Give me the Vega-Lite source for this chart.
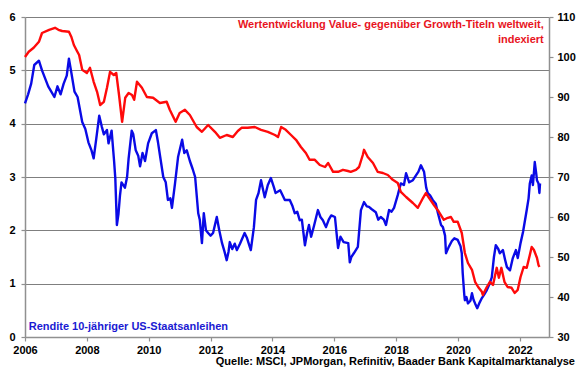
{
  "$schema": "https://vega.github.io/schema/vega-lite/v6.json",
  "width": 524,
  "height": 320,
  "autosize": {"type": "none"},
  "padding": {"left": 25, "top": 17, "right": 31, "bottom": 38},
  "background": "white",
  "config": {
    "view": {"stroke": null},
    "font": "Liberation Sans",
    "axis": {"labelFont": "Liberation Sans", "labelFontWeight": "bold", "labelFontSize": 11, "labelColor": "#000000", "domainColor": "#909090", "domainWidth": 1.5, "tickColor": "#909090", "tickSize": 4, "tickWidth": 1.2}
  },
  "title": {"text": "Quelle: MSCI, JPMorgan, Refinitiv, Baader Bank Kapitalmarktanalyse", "orient": "bottom", "anchor": "end", "frame": "group", "dx": 26, "offset": 1, "fontSize": 11, "font": "Liberation Sans", "fontWeight": "bold", "color": "#000000", "baseline": "top"},
  "datasets": {
    "yield": [
      {"year": 2006.0, "value": 4.38}, {"year": 2006.1, "value": 4.55}, {"year": 2006.2, "value": 4.75}, {"year": 2006.3, "value": 5.1}, {"year": 2006.45, "value": 5.18}, {"year": 2006.55, "value": 5.0}, {"year": 2006.65, "value": 4.85}, {"year": 2006.75, "value": 4.7}, {"year": 2006.85, "value": 4.6}, {"year": 2006.95, "value": 4.5},
      {"year": 2007.05, "value": 4.7}, {"year": 2007.15, "value": 4.55}, {"year": 2007.25, "value": 4.75}, {"year": 2007.35, "value": 4.9}, {"year": 2007.42, "value": 5.22}, {"year": 2007.5, "value": 4.95}, {"year": 2007.6, "value": 4.6}, {"year": 2007.7, "value": 4.5}, {"year": 2007.85, "value": 4.03}, {"year": 2007.95, "value": 3.9},
      {"year": 2008.05, "value": 3.65}, {"year": 2008.15, "value": 3.5}, {"year": 2008.22, "value": 3.35}, {"year": 2008.3, "value": 3.7}, {"year": 2008.4, "value": 4.15}, {"year": 2008.48, "value": 3.95}, {"year": 2008.55, "value": 3.8}, {"year": 2008.65, "value": 3.88}, {"year": 2008.7, "value": 3.63}, {"year": 2008.8, "value": 3.87}, {"year": 2008.88, "value": 3.3}, {"year": 2008.92, "value": 2.97}, {"year": 2008.97, "value": 2.1},
      {"year": 2009.02, "value": 2.3}, {"year": 2009.07, "value": 2.65}, {"year": 2009.12, "value": 2.9}, {"year": 2009.23, "value": 2.8}, {"year": 2009.3, "value": 3.0}, {"year": 2009.35, "value": 3.35}, {"year": 2009.45, "value": 3.87}, {"year": 2009.5, "value": 3.8}, {"year": 2009.58, "value": 3.5}, {"year": 2009.66, "value": 3.4}, {"year": 2009.72, "value": 3.2}, {"year": 2009.8, "value": 3.45}, {"year": 2009.88, "value": 3.3}, {"year": 2009.98, "value": 3.63},
      {"year": 2010.1, "value": 3.82}, {"year": 2010.23, "value": 3.88}, {"year": 2010.3, "value": 3.65}, {"year": 2010.37, "value": 3.38}, {"year": 2010.47, "value": 3.0}, {"year": 2010.55, "value": 2.9}, {"year": 2010.62, "value": 2.57}, {"year": 2010.7, "value": 2.6}, {"year": 2010.75, "value": 2.42}, {"year": 2010.85, "value": 2.88}, {"year": 2010.95, "value": 3.38},
      {"year": 2011.08, "value": 3.7}, {"year": 2011.15, "value": 3.45}, {"year": 2011.23, "value": 3.5}, {"year": 2011.33, "value": 3.3}, {"year": 2011.42, "value": 3.15}, {"year": 2011.5, "value": 3.0}, {"year": 2011.6, "value": 2.32}, {"year": 2011.65, "value": 2.2}, {"year": 2011.72, "value": 1.76}, {"year": 2011.78, "value": 2.32}, {"year": 2011.85, "value": 2.0}, {"year": 2011.92, "value": 1.95},
      {"year": 2012.0, "value": 1.9}, {"year": 2012.08, "value": 1.95}, {"year": 2012.2, "value": 2.25}, {"year": 2012.28, "value": 2.0}, {"year": 2012.37, "value": 1.76}, {"year": 2012.45, "value": 1.6}, {"year": 2012.52, "value": 1.44}, {"year": 2012.58, "value": 1.6}, {"year": 2012.62, "value": 1.78}, {"year": 2012.7, "value": 1.65}, {"year": 2012.78, "value": 1.75}, {"year": 2012.85, "value": 1.63}, {"year": 2012.95, "value": 1.75},
      {"year": 2013.1, "value": 1.95}, {"year": 2013.18, "value": 1.85}, {"year": 2013.3, "value": 1.63}, {"year": 2013.4, "value": 2.06}, {"year": 2013.47, "value": 2.57}, {"year": 2013.55, "value": 2.7}, {"year": 2013.63, "value": 2.94}, {"year": 2013.7, "value": 2.75}, {"year": 2013.75, "value": 2.62}, {"year": 2013.85, "value": 2.85}, {"year": 2013.95, "value": 2.98},
      {"year": 2014.05, "value": 2.8}, {"year": 2014.1, "value": 2.7}, {"year": 2014.25, "value": 2.75}, {"year": 2014.4, "value": 2.57}, {"year": 2014.56, "value": 2.57}, {"year": 2014.65, "value": 2.45}, {"year": 2014.72, "value": 2.32}, {"year": 2014.8, "value": 2.35}, {"year": 2014.88, "value": 2.19}, {"year": 2014.95, "value": 2.2},
      {"year": 2015.05, "value": 1.72}, {"year": 2015.12, "value": 1.95}, {"year": 2015.18, "value": 2.1}, {"year": 2015.25, "value": 1.88}, {"year": 2015.35, "value": 2.1}, {"year": 2015.47, "value": 2.38}, {"year": 2015.55, "value": 2.25}, {"year": 2015.63, "value": 2.19}, {"year": 2015.73, "value": 2.06}, {"year": 2015.82, "value": 2.2}, {"year": 2015.9, "value": 2.28},
      {"year": 2016.02, "value": 2.25}, {"year": 2016.12, "value": 1.67}, {"year": 2016.2, "value": 1.88}, {"year": 2016.3, "value": 1.78}, {"year": 2016.45, "value": 1.76}, {"year": 2016.5, "value": 1.4}, {"year": 2016.55, "value": 1.5}, {"year": 2016.63, "value": 1.57}, {"year": 2016.76, "value": 1.69}, {"year": 2016.86, "value": 2.38}, {"year": 2016.96, "value": 2.53},
      {"year": 2017.05, "value": 2.45}, {"year": 2017.12, "value": 2.44}, {"year": 2017.2, "value": 2.4}, {"year": 2017.34, "value": 2.34}, {"year": 2017.42, "value": 2.2}, {"year": 2017.5, "value": 2.25}, {"year": 2017.6, "value": 2.2}, {"year": 2017.67, "value": 2.1}, {"year": 2017.77, "value": 2.38}, {"year": 2017.85, "value": 2.35}, {"year": 2017.93, "value": 2.42},
      {"year": 2018.05, "value": 2.66}, {"year": 2018.15, "value": 2.88}, {"year": 2018.25, "value": 2.85}, {"year": 2018.32, "value": 3.07}, {"year": 2018.42, "value": 2.9}, {"year": 2018.54, "value": 2.94}, {"year": 2018.64, "value": 3.03}, {"year": 2018.72, "value": 3.1}, {"year": 2018.8, "value": 3.22}, {"year": 2018.9, "value": 3.1}, {"year": 2018.97, "value": 2.8},
      {"year": 2019.02, "value": 2.7}, {"year": 2019.1, "value": 2.65}, {"year": 2019.18, "value": 2.57}, {"year": 2019.28, "value": 2.5}, {"year": 2019.35, "value": 2.32}, {"year": 2019.45, "value": 2.1}, {"year": 2019.51, "value": 2.06}, {"year": 2019.58, "value": 1.9}, {"year": 2019.61, "value": 1.57}, {"year": 2019.7, "value": 1.69}, {"year": 2019.8, "value": 1.8}, {"year": 2019.88, "value": 1.85}, {"year": 2019.99, "value": 1.82},
      {"year": 2020.08, "value": 1.7}, {"year": 2020.12, "value": 1.57}, {"year": 2020.15, "value": 1.2}, {"year": 2020.2, "value": 0.8}, {"year": 2020.22, "value": 0.69}, {"year": 2020.27, "value": 0.75}, {"year": 2020.32, "value": 0.63}, {"year": 2020.4, "value": 0.68}, {"year": 2020.45, "value": 0.82}, {"year": 2020.5, "value": 0.7}, {"year": 2020.55, "value": 0.63}, {"year": 2020.62, "value": 0.54}, {"year": 2020.7, "value": 0.65}, {"year": 2020.77, "value": 0.73}, {"year": 2020.85, "value": 0.8}, {"year": 2020.93, "value": 0.88},
      {"year": 2021.02, "value": 1.0}, {"year": 2021.09, "value": 1.12}, {"year": 2021.16, "value": 1.5}, {"year": 2021.22, "value": 1.72}, {"year": 2021.3, "value": 1.65}, {"year": 2021.35, "value": 1.57}, {"year": 2021.45, "value": 1.63}, {"year": 2021.52, "value": 1.45}, {"year": 2021.58, "value": 1.31}, {"year": 2021.68, "value": 1.25}, {"year": 2021.77, "value": 1.48}, {"year": 2021.87, "value": 1.63}, {"year": 2021.93, "value": 1.48},
      {"year": 2022.02, "value": 1.76}, {"year": 2022.1, "value": 1.97}, {"year": 2022.22, "value": 2.38}, {"year": 2022.28, "value": 2.6}, {"year": 2022.32, "value": 2.88}, {"year": 2022.38, "value": 3.03}, {"year": 2022.42, "value": 2.85}, {"year": 2022.48, "value": 3.28}, {"year": 2022.53, "value": 3.05}, {"year": 2022.55, "value": 2.94}, {"year": 2022.6, "value": 2.88}, {"year": 2022.63, "value": 2.7}, {"year": 2022.65, "value": 2.88}
    ],
    "vg": [
      {"year": 2006.0, "value": 100}, {"year": 2006.12, "value": 101.3}, {"year": 2006.28, "value": 102.3}, {"year": 2006.45, "value": 103.8}, {"year": 2006.55, "value": 106}, {"year": 2006.78, "value": 106.8}, {"year": 2006.97, "value": 107.3},
      {"year": 2007.08, "value": 106.8}, {"year": 2007.2, "value": 106.5}, {"year": 2007.42, "value": 106.3}, {"year": 2007.5, "value": 105}, {"year": 2007.58, "value": 103}, {"year": 2007.68, "value": 101.5}, {"year": 2007.75, "value": 100.5}, {"year": 2007.85, "value": 96.8},
      {"year": 2008.0, "value": 96}, {"year": 2008.1, "value": 97.3}, {"year": 2008.22, "value": 93.8}, {"year": 2008.33, "value": 91.3}, {"year": 2008.43, "value": 88}, {"year": 2008.55, "value": 88.8}, {"year": 2008.65, "value": 92.3}, {"year": 2008.75, "value": 96.3}, {"year": 2008.87, "value": 95.5}, {"year": 2008.95, "value": 96},
      {"year": 2009.04, "value": 90.5}, {"year": 2009.14, "value": 83.8}, {"year": 2009.24, "value": 89.8}, {"year": 2009.35, "value": 91}, {"year": 2009.46, "value": 90.5}, {"year": 2009.53, "value": 89.3}, {"year": 2009.62, "value": 93.8}, {"year": 2009.78, "value": 92.3}, {"year": 2009.94, "value": 90},
      {"year": 2010.14, "value": 89.8}, {"year": 2010.36, "value": 88.5}, {"year": 2010.58, "value": 88.8}, {"year": 2010.68, "value": 86.8}, {"year": 2010.87, "value": 83.8},
      {"year": 2011.0, "value": 86}, {"year": 2011.17, "value": 86.8}, {"year": 2011.33, "value": 85.5}, {"year": 2011.55, "value": 82.5}, {"year": 2011.72, "value": 81.3}, {"year": 2011.92, "value": 83},
      {"year": 2012.14, "value": 81.3}, {"year": 2012.3, "value": 79.8}, {"year": 2012.52, "value": 80.5}, {"year": 2012.72, "value": 80}, {"year": 2012.88, "value": 81.5},
      {"year": 2013.0, "value": 82.3}, {"year": 2013.2, "value": 82.3}, {"year": 2013.43, "value": 82.5}, {"year": 2013.63, "value": 81.8}, {"year": 2013.85, "value": 81.3},
      {"year": 2014.08, "value": 80.5}, {"year": 2014.18, "value": 80}, {"year": 2014.28, "value": 82.5}, {"year": 2014.43, "value": 81.8}, {"year": 2014.6, "value": 80.5}, {"year": 2014.76, "value": 79.3}, {"year": 2014.92, "value": 77.5},
      {"year": 2015.08, "value": 76}, {"year": 2015.2, "value": 74.3}, {"year": 2015.37, "value": 74.3}, {"year": 2015.53, "value": 73}, {"year": 2015.7, "value": 72.5}, {"year": 2015.8, "value": 73.5}, {"year": 2015.96, "value": 71.3},
      {"year": 2016.12, "value": 71.3}, {"year": 2016.28, "value": 71.8}, {"year": 2016.44, "value": 71.5}, {"year": 2016.53, "value": 71.3}, {"year": 2016.7, "value": 71.8}, {"year": 2016.8, "value": 72.5}, {"year": 2016.92, "value": 75.5}, {"year": 2016.96, "value": 76.8},
      {"year": 2017.08, "value": 75}, {"year": 2017.25, "value": 73.5}, {"year": 2017.4, "value": 71.3}, {"year": 2017.57, "value": 71}, {"year": 2017.73, "value": 70.5}, {"year": 2017.89, "value": 69.3},
      {"year": 2018.05, "value": 68.5}, {"year": 2018.15, "value": 66.3}, {"year": 2018.32, "value": 65}, {"year": 2018.54, "value": 63.5}, {"year": 2018.7, "value": 62.3}, {"year": 2018.87, "value": 64.8}, {"year": 2018.96, "value": 66},
      {"year": 2019.06, "value": 64.8}, {"year": 2019.22, "value": 63}, {"year": 2019.38, "value": 61.3}, {"year": 2019.54, "value": 59.3}, {"year": 2019.67, "value": 59.8}, {"year": 2019.77, "value": 60}, {"year": 2019.86, "value": 58.8}, {"year": 2019.99, "value": 58.8},
      {"year": 2020.12, "value": 56}, {"year": 2020.22, "value": 51}, {"year": 2020.32, "value": 48.5}, {"year": 2020.45, "value": 46.8}, {"year": 2020.55, "value": 43.8}, {"year": 2020.65, "value": 42.5}, {"year": 2020.77, "value": 41.3}, {"year": 2020.8, "value": 40.5}, {"year": 2020.93, "value": 42.5},
      {"year": 2021.03, "value": 43.8}, {"year": 2021.13, "value": 43}, {"year": 2021.25, "value": 47.3}, {"year": 2021.32, "value": 44.8}, {"year": 2021.4, "value": 47.3}, {"year": 2021.5, "value": 43.8}, {"year": 2021.6, "value": 42.5}, {"year": 2021.73, "value": 42.3}, {"year": 2021.83, "value": 41}, {"year": 2021.93, "value": 41.8},
      {"year": 2022.02, "value": 45}, {"year": 2022.12, "value": 47.5}, {"year": 2022.22, "value": 47.3}, {"year": 2022.32, "value": 50.5}, {"year": 2022.38, "value": 52.5}, {"year": 2022.45, "value": 51.8}, {"year": 2022.55, "value": 49.8}, {"year": 2022.6, "value": 48}, {"year": 2022.63, "value": 47.5}
    ]
  },
  "layer": [
    {
      "layer": [
        {
          "data": {"name": "yield"},
          "mark": {"type": "line", "color": "#0a0ae6", "strokeWidth": 2.4, "strokeJoin": "round"},
          "encoding": {
            "x": {"field": "year", "type": "quantitative", "scale": {"domain": [2006, 2022.94], "nice": false, "zero": false},
                  "axis": {"values": [2006, 2008, 2010, 2012, 2014, 2016, 2018, 2020, 2022], "format": "d", "title": null, "grid": false, "labelPadding": 3, "labelFlush": false}},
            "y": {"field": "value", "type": "quantitative", "scale": {"domain": [0, 6], "nice": false, "zero": true},
                  "axis": {"values": [0, 1, 2, 3, 4, 5, 6], "title": null, "grid": true, "gridColor": "#7f7f7f", "gridWidth": 1.2, "labelPadding": 6, "orient": "left"}}
          }
        },
        {
          "data": {"values": [{"label": "Rendite 10-jähriger US-Staatsanleihen"}]},
          "mark": {"type": "text", "align": "left", "baseline": "middle", "font": "Liberation Sans", "fontWeight": "bold", "fontSize": 11, "color": "#1a1ad2"},
          "encoding": {
            "x": {"datum": 2006.12, "type": "quantitative"},
            "y": {"datum": 0.19, "type": "quantitative"},
            "text": {"field": "label", "type": "nominal"}
          }
        },
        {
          "data": {"values": [{"label": ["Wertentwicklung Value- gegenüber Growth-Titeln weltweit,", "indexiert"]}]},
          "mark": {"type": "text", "align": "right", "baseline": "middle", "font": "Liberation Sans", "fontWeight": "bold", "fontSize": 11, "color": "#e8141e", "lineHeight": 15},
          "encoding": {
            "x": {"datum": 2022.77, "type": "quantitative"},
            "y": {"datum": 5.85, "type": "quantitative"},
            "text": {"field": "label"}
          }
        }
      ]
    },
    {
      "data": {"name": "vg"},
      "mark": {"type": "line", "color": "#ff0a0a", "strokeWidth": 2.4, "strokeJoin": "round"},
      "encoding": {
        "x": {"field": "year", "type": "quantitative"},
        "y": {"field": "value", "type": "quantitative", "scale": {"domain": [30, 110], "nice": false, "zero": false},
              "axis": {"values": [30, 40, 50, 60, 70, 80, 90, 100, 110], "title": null, "grid": false, "orient": "right", "labelPadding": 4}}
      }
    }
  ],
  "resolve": {"scale": {"y": "independent"}}
}
